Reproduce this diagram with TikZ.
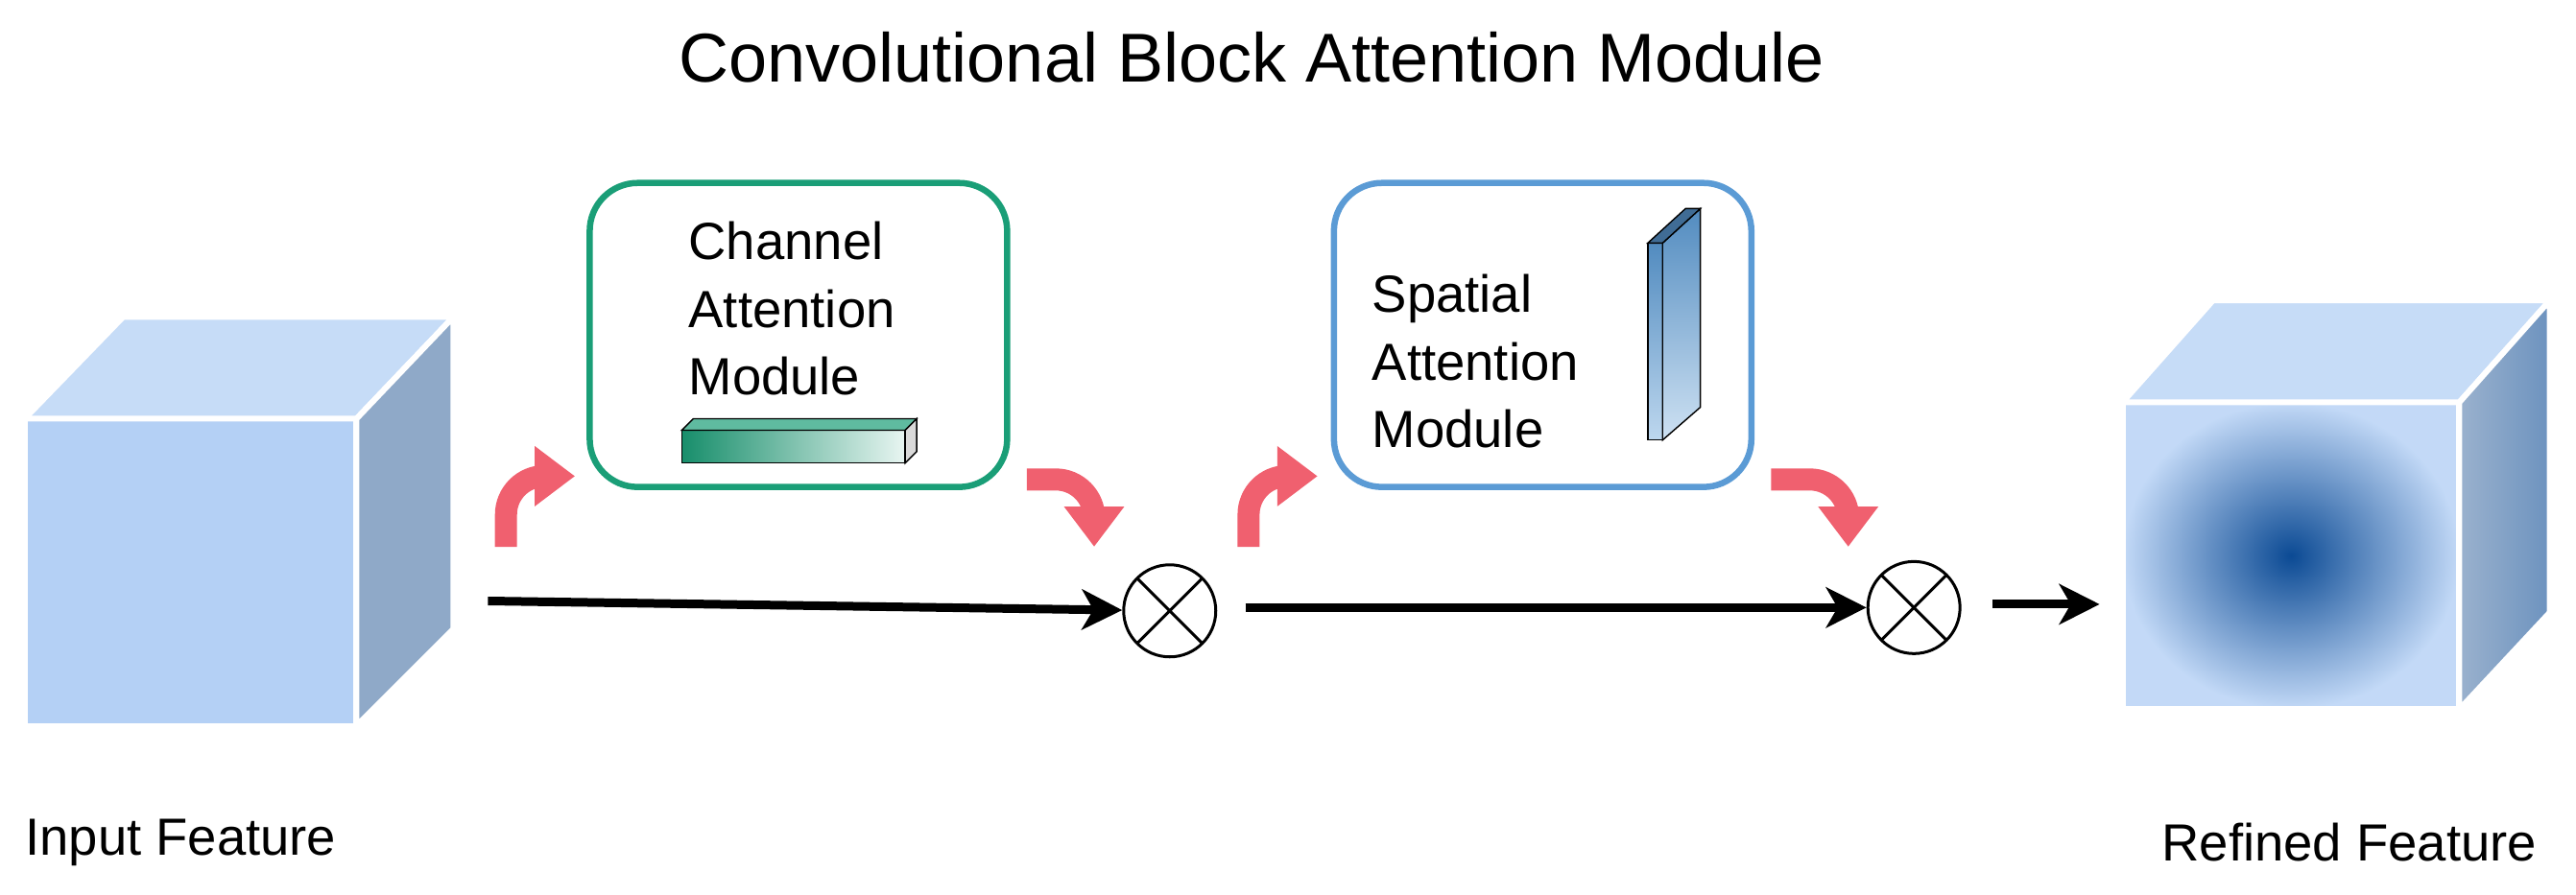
\documentclass[tikz,border=0pt]{standalone}
\usepackage{fontspec}
\setmainfont{Liberation Sans}
\usetikzlibrary{arrows.meta,positioning}
\definecolor{camgreen}{HTML}{1A9E77}
\definecolor{samblue}{HTML}{5B9BD5}
\definecolor{flowpink}{HTML}{F0606F}
\definecolor{cubefront}{HTML}{B4D0F5}
\definecolor{cubetop}{HTML}{C6DCF7}
\definecolor{cubeside}{HTML}{8FA9C8}
\definecolor{deepblue}{HTML}{0B4A94}

\begin{document}
\begin{tikzpicture}[
    x=0.01712cm, y=-0.01712cm,
    module/.style={rectangle, rounded corners=0.5cm, line width=0.065cm, fill=white, minimum width=4.35cm, minimum height=3.17cm},
    label/.style={font=\fontsize{15.5}{20}\selectfont, align=left},
    mult/.style={circle, draw, line width=0.03cm, minimum size=0.96cm, inner sep=0pt,
        path picture={\draw[line width=0.03cm] (path picture bounding box.north west) -- (path picture bounding box.south east)
                            (path picture bounding box.north east) -- (path picture bounding box.south west);}},
    flow/.style={-{Stealth[length=0.42cm, width=0.42cm, inset=0.12cm]}, line width=0.09cm},
    pinkarrow/.style={-{Triangle[length=0.42cm, width=0.6cm]}, line width=0.23cm, flowpink, rounded corners=0.4cm}
]
\useasboundingbox (0,0) rectangle (1568,545);

% Title
\node[font=\fontsize{20.5}{24}\selectfont] (title) at (762,35) {Convolutional Block Attention Module};

% Input feature cube
\fill[cubefront, draw=white, line width=0.06cm] (15,255) rectangle (217,442);
\fill[cubetop, draw=white, line width=0.06cm] (15,255) -- (75,193) -- (276,193) -- (217,255) -- cycle;
\fill[cubeside, draw=white, line width=0.06cm] (217,255) -- (276,193) -- (276,383) -- (217,442) -- cycle;
\node[inner sep=0pt] (incube) at (146,318) {};
\node[label] (inlabel) at (110,513) {Input Feature};

% Refined feature cube
\shade[inner color=deepblue, outer color=cubefront!80] (1292,245) rectangle (1497,432);
\draw[white, line width=0.06cm] (1292,245) rectangle (1497,432);
\fill[cubetop, draw=white, line width=0.06cm] (1292,245) -- (1347,183) -- (1552,183) -- (1497,245) -- cycle;
\shade[left color=cubeside!90, right color=deepblue!60] (1497,245) -- (1552,183) -- (1552,373) -- (1497,432) -- cycle;
\draw[white, line width=0.06cm] (1497,245) -- (1552,183) -- (1552,373) -- (1497,432) -- cycle;
\node[label] (outlabel) at (1430,513) {Refined Feature};

% Channel attention module
\node[module, draw=camgreen] (cam) at (486,204) {};
\node[label, anchor=north west] (camtext) at (412,128) {Channel\\Attention\\Module};
\shade[left color=camgreen!90!black, right color=camgreen!10, draw=black] (415,262) rectangle (551,282);
\fill[camgreen!70, draw=black] (415,262) -- (422,255) -- (558,255) -- (551,262) -- cycle;
\fill[gray!30, draw=black] (551,262) -- (558,255) -- (558,275) -- (551,282) -- cycle;

% Spatial attention module
\node[module, draw=samblue] (sam) at (939,204) {};
\node[label, anchor=north west] (samtext) at (828,160) {Spatial\\Attention\\Module};
\shade[top color=samblue!90!black, bottom color=samblue!40, draw=black] (1003,148) rectangle (1012,268);
\shade[top color=samblue!90!black, bottom color=samblue!30, draw=black] (1012,148) -- (1035,127) -- (1035,248) -- (1012,268) -- cycle;
\fill[samblue!70!black, draw=black] (1003,148) -- (1026,127) -- (1035,127) -- (1012,148) -- cycle;

% Multiplication nodes
\node[mult] (m1) at (712,372) {};
\node[mult] (m2) at (1165,370) {};

% Main flow
\coordinate (s1) at (297,366);
\coordinate (s2) at (758,370);
\coordinate (s3) at (1213,368);
\coordinate (e3) at (1278,368);
\draw[flow] (s1) -- (m1);
\draw[flow] (s2) -- (m2);
\draw[flow] (s3) -- (e3);

% Pink branch arrows
\coordinate (a1) at (308,333);
\coordinate (b1) at (350,290);
\coordinate (a2) at (625,292);
\coordinate (b2) at (666,333);
\coordinate (a3) at (760,333);
\coordinate (b3) at (802,290);
\coordinate (a4) at (1078,292);
\coordinate (b4) at (1125,333);
\draw[pinkarrow] (a1) |- (b1);
\draw[pinkarrow] (a2) -| (b2);
\draw[pinkarrow] (a3) |- (b3);
\draw[pinkarrow] (a4) -| (b4);

\end{tikzpicture}
\end{document}
